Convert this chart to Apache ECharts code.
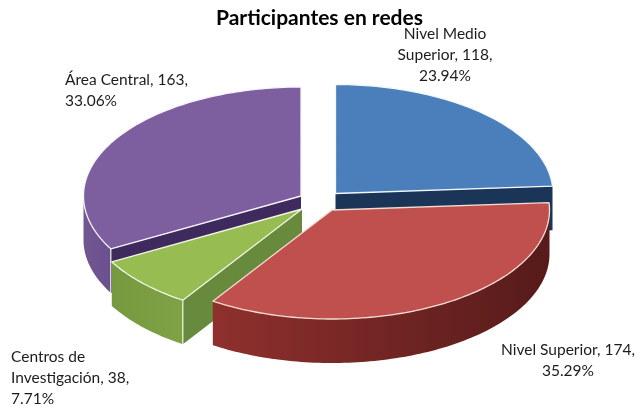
<!DOCTYPE html>
<html><head><meta charset="utf-8">
<style>html,body{margin:0;padding:0;background:#fff}#c{width:640px;height:406px}</style>
<script src="https://cdn.jsdelivr.net/npm/echarts@6/dist/echarts.min.js"></script>
</head><body><div id="c"></div>
<script>
const titleText = 'Participantes en redes';
const categories = ['Nivel Medio\nSuperior', 'Nivel Superior', 'Centros de\nInvestigación', 'Área Central'];
const values = [118, 174, 38, 163];

// drawing style, separate from the data
const topColors = ['#4b7fbc', '#c0504d', '#96bc52', '#7d5fa0'];
const edgeColors = ['#f2f7fc', '#f3ddd2', '#f2f7e6', '#f7f4fb'];
const cutColors = ['#1b3558', '#6d2422', '#688a3c', '#3f2a5e'];
const sideStops = [
  ['#1b3558', '#1b3558'],
  ['#8f302d', '#561b1a'],
  ['#7fa245', '#76993f'],
  ['#6a5090', '#72578f']
];
const centers = [[335.5, 193.5], [332, 210], [302, 209], [301, 196]];
const order = [1, 3, 2, 0]; // paint order per data index
const labelPos = [
  {x: 445, y: 23, align: 'center'},
  {x: 568, y: 339, align: 'center'},
  {x: 11, y: 346, align: 'left'},
  {x: 65, y: 69, align: 'left'}
];
const RX = 217.5, RY = 109, DEPTH = 44;
const total = values.reduce((a, b) => a + b, 0);

function renderItem(params, api) {
  const i = params.dataIndex;
  let before = 0;
  for (let k = 0; k < i; k++) before += values[k];
  const v = api.value(1);
  const a0 = before / total * Math.PI * 2, a1 = (before + v) / total * Math.PI * 2;
  const [cx, cy] = centers[i];
  const P = (t, d) => [cx + RX * Math.sin(t), cy - RY * Math.cos(t) + (d || 0)];
  const arc = (s, e, d) => {
    const n = Math.max(2, Math.ceil((e - s) / 0.02)), out = [];
    for (let j = 0; j <= n; j++) out.push(P(s + (e - s) * j / n, d));
    return out;
  };
  const z = order[i] * 10;
  const children = [];
  // outer wall: the part of the rim facing the viewer
  const sS = Math.max(a0, Math.PI / 2), sE = Math.min(a1, Math.PI * 1.5);
  if (sE > sS) {
    children.push({
      type: 'polygon', z2: z + 1,
      shape: {points: arc(sS, sE, 0).concat(arc(sS, sE, DEPTH).reverse())},
      style: {fill: {type: 'linear', x: 0, y: 0, x2: 1, y2: 0, colorStops: [
        {offset: 0, color: sideStops[i][i === 1 ? 0 : 1]}, {offset: 1, color: sideStops[i][i === 1 ? 1 : 0]}
      ]}}
    });
  }
  // cut faces that look toward the viewer
  const cut = t => [[cx, cy], P(t, 0), P(t, DEPTH), [cx, cy + DEPTH]];
  if (i === 0) children.push({type: 'polygon', z2: z, shape: {points: cut(a1)}, style: {fill: cutColors[i]}});
  if (i === 2) children.push({type: 'polygon', z2: z, shape: {points: cut(a0)}, style: {fill: cutColors[i]}});
  if (i === 3) children.push({type: 'polygon', z2: z, shape: {points: cut(a0)}, style: {fill: cutColors[i]}});
  // vertical highlight at the rim corner
  if (i === 2 || i === 3) {
    children.push({type: 'line', z2: z + 2, shape: {x1: P(a0)[0], y1: P(a0)[1], x2: P(a0)[0], y2: P(a0, DEPTH)[1]},
      style: {stroke: '#eef3e4', lineWidth: 1.2}});
  }
  // top face
  children.push({
    type: 'polygon', z2: z + 3,
    shape: {points: [[cx, cy]].concat(arc(a0, a1, 0))},
    style: {fill: topColors[i], stroke: edgeColors[i], lineWidth: 1.3, lineJoin: 'round'}
  });
  // label
  const pct = (v / total * 100).toFixed(2);
  children.push({
    type: 'text', z2: 100,
    x: labelPos[i].x, y: labelPos[i].y,
    style: {
      text: `${categories[i]}, ${v},\n${pct}%`,
      fontFamily: 'Lato', fontSize: 15.5, lineHeight: 21,
      fill: '#1c1c1c', align: labelPos[i].align, verticalAlign: 'top'
    }
  });
  return {type: 'group', children};
}

const chart = echarts.init(document.getElementById('c'), null, {renderer: 'canvas'});
chart.setOption({
  animation: false,
  backgroundColor: '#fff',
  title: {
    text: titleText, left: 211, top: 3,
    textStyle: {fontFamily: 'Lato', fontWeight: 'bold', fontSize: 21, color: '#000'}
  },
  series: [{
    type: 'custom',
    coordinateSystem: 'none',
    renderItem,
    data: categories.map((c, i) => ({name: c, value: [i, values[i]]}))
  }]
});
</script></body></html>
